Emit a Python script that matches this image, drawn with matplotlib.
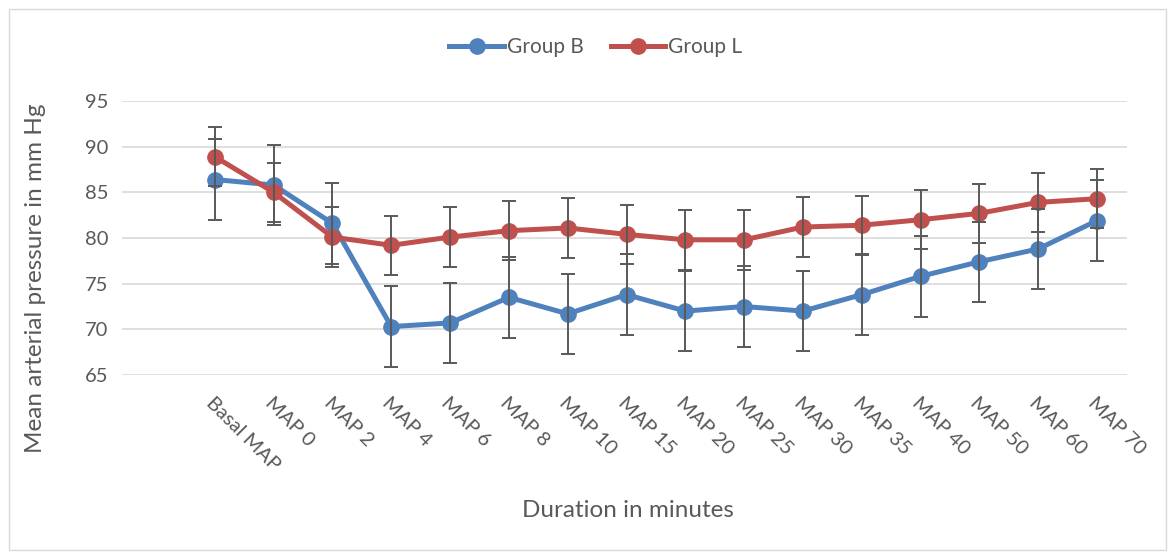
import matplotlib.pyplot as plt
import numpy as np
from matplotlib.patches import Rectangle

plt.rcParams['font.family'] = ['Lato', 'DejaVu Sans']

categories = ['Basal MAP', 'MAP 0', 'MAP 2', 'MAP 4', 'MAP 6', 'MAP 8', 'MAP 10', 'MAP 15',
              'MAP 20', 'MAP 25', 'MAP 30', 'MAP 35', 'MAP 40', 'MAP 50', 'MAP 60', 'MAP 70']
group_b = [86.4, 85.8, 81.6, 70.3, 70.7, 73.5, 71.7, 73.8, 72.0, 72.5, 72.0, 73.8, 75.8, 77.4, 78.8, 81.9]
group_l = [88.9, 85.0, 80.1, 79.2, 80.1, 80.8, 81.1, 80.4, 79.8, 79.8, 81.2, 81.4, 82.0, 82.7, 83.9, 84.3]
sd_b = [4.4] * 16
sd_l = [3.25] * 16

blue = '#4F81BD'
red = '#C0504D'
grey = '#595959'

fig = plt.figure(figsize=(11.75, 5.54), dpi=100)
fig.patches.append(Rectangle((0.008, 0.008), 0.984, 0.975, transform=fig.transFigure,
                             fill=False, edgecolor='#d9d9d9', linewidth=1))
ax = fig.add_axes([0.1038, 0.3231, 0.8553, 0.4946])

x = np.arange(len(categories))
ax.plot(x, group_b, color=blue, lw=3.6, marker='o', ms=11, label='Group B', zorder=3)
ax.plot(x, group_l, color=red, lw=3.6, marker='o', ms=11, label='Group L', zorder=3)
ax.errorbar(x, group_b, yerr=sd_b, fmt='none', ecolor=grey, elinewidth=1.4, capsize=5, capthick=1.4, zorder=4)
ax.errorbar(x, group_l, yerr=sd_l, fmt='none', ecolor=grey, elinewidth=1.4, capsize=5, capthick=1.4, zorder=4)

ax.set_ylim(65, 95)
ax.set_xlim(-1.58, 15.51)
ax.set_yticks(range(65, 96, 5))
ax.yaxis.grid(True, color='#d9d9d9', lw=1.2)
ax.set_axisbelow(True)
for s in ax.spines.values():
    s.set_visible(False)
ax.tick_params(length=0, colors=grey, labelsize=14.5)
ax.tick_params(axis='y', pad=10)
ax.set_xticks(x)
ax.set_xticklabels(categories, rotation=-45, ha='left', rotation_mode='anchor')
ax.tick_params(axis='x', pad=14)

fig.text(0.030, 0.498, 'Mean arterial pressure in mm Hg', fontsize=17.5, color=grey,
         rotation=90, ha='center', va='center')
fig.text(0.534, 0.079, 'Duration in minutes', fontsize=17.5, color=grey, ha='center', va='center')

fig.legend(loc='center', bbox_to_anchor=(0.507, 0.915), ncol=2, frameon=False, fontsize=15,
           handlelength=2.6, labelcolor=grey, columnspacing=1.3, handletextpad=0.15)

fig.savefig('out.png', dpi=100)
